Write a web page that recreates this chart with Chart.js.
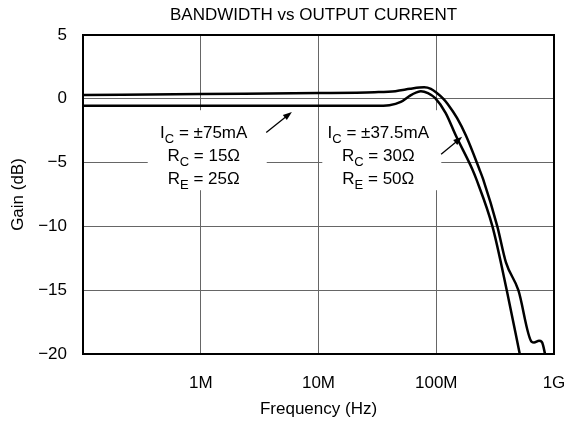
<!DOCTYPE html>
<html>
<head>
<meta charset="utf-8">
<script src="https://cdn.jsdelivr.net/npm/chart.js@4.4.1/dist/chart.umd.min.js"></script>
<style>
  html, body { margin: 0; padding: 0; background: #fff; }
  #wrap { width: 569px; height: 426px; }
</style>
</head>
<body>
<div id="wrap"><canvas id="chart" width="569" height="426"></canvas></div>
<script>
// frequency (Hz) and gain (dB)
const freq75 = [1e5, 1e6, 1e7, 3e7, 4e7, 5e7, 6e7, 6.8e7, 7.4e7, 8.5e7, 9.8e7, 1.2e8, 1.47e8, 2.02e8, 2.19e8, 3.0e8, 3.97e8, 5.12e8];
const gain75 = [-0.55, -0.55, -0.55, -0.55, -0.5, -0.25, 0.25, 0.5, 0.6, 0.45, 0.05, -1.1, -2.9, -5.5, -6.3, -10, -15, -20];

const freq375 = [1e5, 1e6, 1e7, 3e7, 4.5e7, 6e7, 7.2e7, 7.9e7, 9e7, 1e8, 1.15e8, 1.25e8, 1.5e8, 1.79e8, 2.32e8, 2.5e8, 3.3e8, 3.9e8, 4.98e8, 6.47e8, 6.77e8, 7.46e8, 7.87e8, 8.07e8, 8.39e8];
const gain375 = [0.3, 0.38, 0.45, 0.52, 0.6, 0.78, 0.88, 0.9, 0.78, 0.5, 0, -0.4, -1.5, -2.9, -5.5, -6.3, -10, -12.8, -15, -19.05, -19.1, -18.97, -19.05, -19.3, -20];

const xGridValues = [1e5, 1e6, 1e7, 1e8, 1e9];
const xTickLabels = ['', '1M', '10M', '100M', '1G'];

// label lines: [main, subscript, rest]
const label75 = [['I', 'C', ' = \u00b175mA'], ['R', 'C', ' = 15\u03a9'], ['R', 'E', ' = 25\u03a9']];
const label375 = [['I', 'C', ' = \u00b137.5mA'], ['R', 'C', ' = 30\u03a9'], ['R', 'E', ' = 50\u03a9']];

const fontFamily = "'Liberation Sans', Arial, Helvetica, sans-serif";
Chart.defaults.font.family = fontFamily;
Chart.defaults.font.size = 17;
Chart.defaults.color = '#000';

function toPoints(xs, ys) {
  return xs.map((x, i) => ({ x: x, y: ys[i] }));
}

function drawLine(ctx, parts, cx, baseY) {
  const [main, sub, rest] = parts;
  ctx.font = '17px ' + fontFamily;
  const w1 = ctx.measureText(main).width;
  const w3 = ctx.measureText(rest).width;
  ctx.font = '13px ' + fontFamily;
  const w2 = ctx.measureText(sub).width;
  let x = cx - (w1 + w2 + w3) / 2;
  ctx.font = '17px ' + fontFamily;
  ctx.fillText(main, x, baseY);
  x += w1;
  ctx.font = '13px ' + fontFamily;
  ctx.fillText(sub, x, baseY + 5);
  x += w2;
  ctx.font = '17px ' + fontFamily;
  ctx.fillText(rest, x, baseY);
}

function drawArrow(ctx, x1, y1, x2, y2) {
  const ang = Math.atan2(y2 - y1, x2 - x1);
  ctx.beginPath();
  ctx.moveTo(x1, y1);
  ctx.lineTo(x2 - 6 * Math.cos(ang), y2 - 6 * Math.sin(ang));
  ctx.lineWidth = 1.3;
  ctx.strokeStyle = '#000';
  ctx.stroke();
  ctx.beginPath();
  ctx.moveTo(x2, y2);
  ctx.lineTo(x2 - 9 * Math.cos(ang) + 3.2 * Math.sin(ang), y2 - 9 * Math.sin(ang) - 3.2 * Math.cos(ang));
  ctx.lineTo(x2 - 9 * Math.cos(ang) - 3.2 * Math.sin(ang), y2 - 9 * Math.sin(ang) + 3.2 * Math.cos(ang));
  ctx.closePath();
  ctx.fillStyle = '#000';
  ctx.fill();
}

// where the two captions sit (frequency, dB of first baseline) and their arrows
const notes = [
  { lines: label75, at: [1.06e6, -3.05], tail: [3.6e6, -2.64], tip: [5.94e6, -1.03] },
  { lines: label375, at: [3.22e7, -3.05], tail: [1.1e8, -4.34], tip: [1.66e8, -2.98] }
];

const notesPlugin = {
  id: 'notes',
  beforeDatasetsDraw(chart) {
    const { ctx, scales: { x, y } } = chart;
    ctx.save();
    ctx.fillStyle = '#fff';
    notes.forEach(n => {
      const cx = x.getPixelForValue(n.at[0]);
      const by = y.getPixelForValue(n.at[1]);
      ctx.fillRect(cx - 56, by - 27.5, 119, 80);
    });
    ctx.restore();
  },
  afterDatasetsDraw(chart) {
    const { ctx, chartArea, scales: { x, y } } = chart;
    ctx.save();
    ctx.fillStyle = '#000';
    ctx.textBaseline = 'alphabetic';
    ctx.textAlign = 'left';
    notes.forEach(n => {
      const cx = x.getPixelForValue(n.at[0]);
      const by = y.getPixelForValue(n.at[1]);
      n.lines.forEach((l, i) => drawLine(ctx, l, cx, by + i * 23));
      drawArrow(ctx, x.getPixelForValue(n.tail[0]), y.getPixelForValue(n.tail[1]),
                x.getPixelForValue(n.tip[0]), y.getPixelForValue(n.tip[1]));
    });
    // frame round the plot
    ctx.lineWidth = 2;
    ctx.strokeStyle = '#000';
    ctx.strokeRect(chartArea.left, chartArea.top, chartArea.right - chartArea.left, chartArea.bottom - chartArea.top);
    // title
    ctx.font = '17px ' + fontFamily;
    ctx.textAlign = 'center';
    ctx.textBaseline = 'middle';
    ctx.fillText('BANDWIDTH vs OUTPUT CURRENT', (chartArea.left + chartArea.right) / 2 - 5, 15);
    ctx.restore();
  }
};

new Chart(document.getElementById('chart'), {
  type: 'line',
  data: {
    datasets: [
      {
        label: 'IC = \u00b175mA',
        data: toPoints(freq75, gain75),
        borderColor: '#000',
        borderWidth: 2.5,
        pointRadius: 0,
        fill: false,
        cubicInterpolationMode: 'monotone'
      },
      {
        label: 'IC = \u00b137.5mA',
        data: toPoints(freq375, gain375),
        borderColor: '#000',
        borderWidth: 2.5,
        pointRadius: 0,
        fill: false,
        cubicInterpolationMode: 'monotone'
      }
    ]
  },
  options: {
    responsive: false,
    animation: false,
    layout: { padding: { top: 35, right: 0, left: 0, bottom: 0 } },
    plugins: {
      legend: { display: false },
      tooltip: { enabled: false },
      title: { display: false }
    },
    scales: {
      x: {
        type: 'logarithmic',
        min: 1e5,
        max: 1e9,
        afterBuildTicks: (scale) => {
          scale.ticks = xGridValues.map(v => ({ value: v }));
        },
        afterFit: (scale) => {
          scale.height = 72;
          scale.paddingLeft = 0;
          scale.paddingRight = 15;
        },
        ticks: {
          autoSkip: false,
          maxRotation: 0,
          padding: 19,
          callback: (v, i) => xTickLabels[i]
        },
        grid: { color: '#666', lineWidth: 1, drawTicks: false },
        border: { color: '#000', width: 2 },
        title: { display: true, text: 'Frequency (Hz)', padding: { top: 0, bottom: 6 } }
      },
      y: {
        type: 'linear',
        min: -20,
        max: 5,
        afterFit: (scale) => { scale.width = 83; },
        ticks: {
          stepSize: 5,
          padding: 16,
          callback: (v) => String(v).replace('-', '\u2212')
        },
        grid: { color: '#666', lineWidth: 1, drawTicks: false },
        border: { color: '#000', width: 2 },
        title: { display: true, text: 'Gain (dB)', padding: { top: 8, bottom: 0 } }
      }
    }
  },
  plugins: [notesPlugin]
});
</script>
</body>
</html>
